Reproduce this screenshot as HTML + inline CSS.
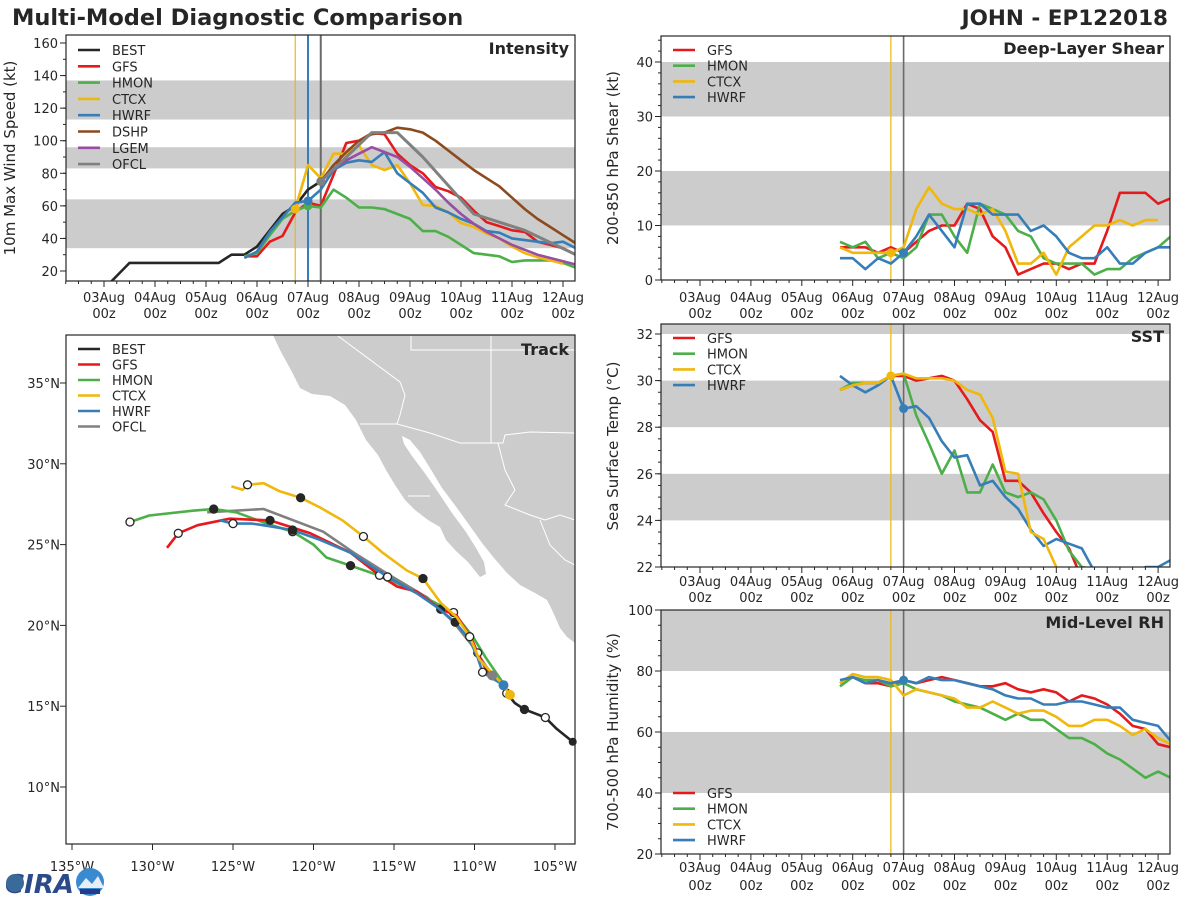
<!DOCTYPE html>
<html><head><meta charset="utf-8"><style>
html,body{margin:0;padding:0;background:#fff;}
svg text{font-family:"DejaVu Sans","Liberation Sans",sans-serif;}
</style></head><body>
<svg id="chart" xmlns="http://www.w3.org/2000/svg" width="1200" height="900" viewBox="0 0 1200 900">
<defs>
<clipPath id="cI"><rect x="66" y="35" width="509" height="246"/></clipPath>
<clipPath id="cS"><rect x="661" y="36" width="509" height="244"/></clipPath>
<clipPath id="cT"><rect x="661" y="324" width="509" height="243"/></clipPath>
<clipPath id="cR"><rect x="661" y="610" width="509" height="244"/></clipPath>
<clipPath id="cM"><rect x="66" y="335" width="509" height="509"/></clipPath>
</defs>
<text x="12" y="25" font-size="22.5" font-weight="bold" fill="#262626">Multi-Model Diagnostic Comparison</text>
<text x="1168" y="25" font-size="21.5" font-weight="bold" fill="#262626" text-anchor="end">JOHN - EP122018</text>
<g id="map" clip-path="url(#cM)">
<polygon fill="#cccccc" points="273,335 280,350 292,372 300,388 312,394 330,396 345,405 356,420 366,440 378,455 386,470 395,485 405,500 415,510 428,520 440,527 446,540 456,551 468,562 480,577 486,574 484,562 476,548 466,532 452,513 438,492 424,472 412,456 404,444 402,436 410,440 420,452 430,468 442,488 457,508 470,526 482,543 494,558 507,573 520,585 535,593 547,600 553,612 560,628 567,637 575,643 575,335"/>
<polyline fill="none" stroke="#fff" stroke-width="1" points="360,424 397,424 430,433 460,443 503,443 505,435 530,432 575,433"/>
<polyline fill="none" stroke="#fff" stroke-width="1" points="338,336 400,382 405,395 400,415 397,424"/>
<polyline fill="none" stroke="#fff" stroke-width="1" points="411,336 411,350 575,350"/>
<polyline fill="none" stroke="#fff" stroke-width="1" points="491,336 491,443"/>
<polyline fill="none" stroke="#fff" stroke-width="1" points="498,443 505,470 515,490 505,505 530,515 545,520 560,515 575,520"/>
<polyline fill="none" stroke="#fff" stroke-width="1" points="540,520 550,545 565,560 575,565"/>
<polyline fill="none" stroke="#fff" stroke-width="1" points="408,496 430,496"/>
</g>
<g id="plot"></g>
<g>
<text x="5" y="893" font-size="26" font-weight="bold" fill="#2a4a8a" font-style="italic">CIRA</text>
<circle cx="15" cy="883" r="9" fill="#3a6a9a"/>
<circle cx="90" cy="882" r="14" fill="#3a8ad0"/>
<path d="M78,888 L86,878 L92,884 L98,876 L104,888 Z" fill="#e8eef8"/>
<rect x="80" y="889" width="20" height="5" fill="#2a3a8a"/>
</g>
</svg>
<script>
// ---------- DATA ----------
const dayLabels = ["03Aug","04Aug","05Aug","06Aug","07Aug","08Aug","09Aug","10Aug","11Aug","12Aug"];
const intensityTicks = [20,40,60,80,100,120,140,160];
const shearTicks = [0,10,20,30,40];
const sstTicks = [22,24,26,28,30,32];
const rhTicks = [20,40,60,80,100];
const latTicks = [10,15,20,25,30,35];
const lonTicks = [-135,-130,-125,-120,-115,-110,-105];

const bestStart = 0;
const bestVmax = [9,17,25,25,25,25,25,25,25,25,30,30,35,45,55,60,70,75];
const gfsVmax = [29,29,38,41.5,56,62,60,79,98.6,100,104.7,104,92,85,80,71.6,69,65,57,50,47.6,45,44,38,36,34,30];
const hmonVmax = [29,31,42,52,57,60,59,70,65,59,59,58,55,52,44.5,44.5,41,36,31,30,29,25.5,26.5,26.5,26.5,25,22];
const ctcxVmax = [58,85,77,92,92,97,85,82,85,74,60.5,60,56,49.5,47,43,40,35,31,28.5,26.5,24.5];
const hwrfVmax = [28,32,44,53,62,63,70,82,86.5,88,87,93,80,74,68,59,56,52,49,44.5,43.5,40,39,38,37,38,34];
const dshpVmax = [75,85,93,100,104,105,108,107,105,100,94,88,82,77,72,65,58,52,47,42,37];
const lgemVmax = [75,83,88,92,96,93,90,84,77,70,62,55,49,44,40,36,33,30,28,26,24];
const ofclHours = [102,114,126,138,150,174,198,222];
const ofclVmax = [75,90,105,105,90,55,45,30];

const gfsShear = [6,6,6,5,6,5,7,9,10,10,14,13,8,6,1,2,3,3,2,3,3,9,16,16,16,14,15];
const hmonShear = [7,6,7,4,5,4,6,12,12,8,5,14,13,12,9,8,4,3,3,3,1,2,2,4,5,6,8];
const ctcxShear = [6,5,5,5,5,6,13,17,14,13,13,12,13,9,3,3,5,1,6,8,10,10,11,10,11,11];
const hwrfShear = [4,4,2,4,3,5,8,12,9,6,14,14,12,12,12,9,10,8,5,4,4,6,3,3,5,6,6];

const gfsSst = [29.6,29.8,29.9,29.9,30.2,30.2,30.0,30.1,30.2,30.0,29.2,28.3,27.8,25.7,25.7,25.2,24.3,23.5,22.8,21.5];
const hmonSst = [29.6,29.9,29.9,29.9,30.2,30.3,28.5,27.3,26.0,27.0,25.2,25.2,26.4,25.2,25.0,25.2,24.9,24.0,22.7,22.0,21.9,21.5];
const ctcxSst = [29.6,29.8,29.9,29.9,30.2,30.3,30.1,30.1,30.1,30.0,29.6,29.4,28.4,26.1,26.0,23.5,23.2,22.0,21.0];
const hwrfSst = [30.2,29.8,29.5,29.8,30.2,28.8,28.9,28.4,27.4,26.7,26.8,25.5,25.7,25.0,24.5,23.6,22.9,23.2,23.0,22.8,21.8,21.5,21.5,21.5,22.0,22.0,22.3];

const gfsRh = [76,78,76,76,75,77,76,77,78,77,76,75,75,76,74,73,74,73,70,72,71,69,66,62,61,56,55];
const hmonRh = [75,78,77,77,75,76,74,73,72,70,69,68,66,64,66,64,64,61,58,58,56,53,51,48,45,47,45];
const ctcxRh = [76,79,78,78,77,72,74,73,72,71,68,68,70,68,66,67,67,65,62,62,64,64,62,59,61,58,56];
const hwrfRh = [77,78,76,77,76,77,76,78,77,77,76,75,74,72,71,71,69,69,70,70,69,68,68,64,63,62,57];

const bestLon = [-103.9,-104.9,-105.6,-106.1,-106.9,-107.5,-108.0,-108.3];
const bestLat = [12.8,13.6,14.3,14.5,14.8,15.2,15.8,16.4];
const gfsLon = [-108.3,-109.2,-109.8,-110.2,-111.1,-112.1,-113.6,-114.8,-115.9,-117.7,-120.2,-122.7,-125.2,-127.2,-128.4,-129.1];
const gfsLat = [16.4,17.1,18.3,19.2,20.6,21.0,22.1,22.4,23.1,24.5,25.7,26.5,26.6,26.2,25.7,24.8];
const hmonLon = [-108.2,-109.3,-110.1,-111.3,-113.4,-115.4,-117.7,-119.2,-120.0,-121.3,-122.9,-124.8,-126.2,-127.5,-130.2,-131.4];
const hmonLat = [16.4,18.0,19.3,20.8,21.9,22.9,23.7,24.2,25.0,25.8,26.3,27.0,27.2,27.1,26.8,26.4];
const ctcxLon = [-107.8,-108.3,-109.7,-110.3,-111.1,-112.1,-113.2,-114.2,-115.7,-116.9,-118.2,-119.6,-120.8,-122.1,-123.1,-124.1,-124.4,-125.1];
const ctcxLat = [15.7,16.4,17.9,19.3,20.5,21.4,22.9,23.4,24.5,25.5,26.5,27.3,27.9,28.3,28.8,28.7,28.4,28.6];
const hwrfLon = [-108.2,-109.5,-109.8,-110.3,-111.2,-112.3,-113.6,-115.4,-117.7,-119.6,-121.3,-122.5,-123.8,-125.0,-125.8];
const hwrfLat = [16.3,17.1,18.0,19.1,20.2,21.1,22.0,23.0,24.5,25.3,25.9,26.1,26.3,26.3,26.5];
const ofclLon = [-108.9,-110.1,-111.3,-112.9,-115.1,-117.5,-119.4,-123.1,-126.6];
const ofclLat = [16.9,18.7,20.2,21.7,23.0,24.5,25.8,27.2,27.0];

// ---------- HELPERS ----------
const NS = "http://www.w3.org/2000/svg";
const root = document.getElementById('plot');
function mk(tag, attrs, parent){ const e=document.createElementNS(NS,tag); for(const k in attrs) e.setAttribute(k,attrs[k]); (parent||root).appendChild(e); return e; }
const C = {BEST:"#262626",GFS:"#e41a1c",HMON:"#4daf4a",CTCX:"#f0b70c",HWRF:"#377eb8",DSHP:"#8c4a1e",LGEM:"#984ea3",OFCL:"#808080"};

const xL = h => 104 + h/24*51;
const xR = h => 700 + h/24*50.9;
const yI = v => 271 - (v-20)*1.6286;
const yS = v => 280 - v*5.45;
const yT = v => 567 - (v-22)*23.3;
const yH = v => 854 - (v-20)*3.05;
const mx = lon => 72 + (lon+135)*16.1;
const my = lat => 787 - (lat-10)*16.16;

function band(x0,w,y0,y1,name){ const r=mk('rect',{x:x0,y:Math.min(y0,y1),width:w,height:Math.abs(y1-y0),fill:'#cccccc'});   }
function series(xs, ys, color, clip, name, w){
  const p = mk('polyline',{points:xs.map((x,i)=>x.toFixed(1)+','+ys[i].toFixed(1)).join(' '),fill:'none',stroke:color,'stroke-width':w||2.6,'stroke-linejoin':'round','clip-path':'url(#'+clip+')'});
  
  
}
function ts(start, vals, xf, yf, color, clip, name){
  const hours = vals.map((v,i)=>start+i*6);
  series(hours.map(xf), vals.map(yf), color, clip, name);
}
function dot(x,y,color,name,r){ const c=mk('circle',{cx:x,cy:y,r:r||4.5,fill:color});   }
function vline(x,y0,y1,color,name,w){ const l=mk('line',{x1:x,x2:x,y1:y0,y2:y1,stroke:color,'stroke-width':w||1.2});   }
function text(x,y,s,opts,name){ const t=mk('text',Object.assign({x:x,y:y,'font-size':13,fill:'#262626'},opts||{})); t.textContent=s;   return t; }
function frame(x,y,w,h,name){ const r=mk('rect',{x:x,y:y,width:w,height:h,fill:'none',stroke:'#262626','stroke-width':1.2});   }
function xaxis(xf, x0, x1, yb, ly1, ly2, prefix){
  for(let h=-36; h<=240; h+=6){ const x=xf(h); if(x<x0-0.5||x>x1+0.5) continue; const maj = h%24===0; mk('line',{x1:x,x2:x,y1:yb,y2:yb+(maj?6:3),stroke:'#262626','stroke-width':1}); }
  dayLabels.forEach((d,i)=>{ const x=xf(i*24);
    text(x,ly1,d,{'text-anchor':'middle'},prefix+'-x-label-'+d);
    text(x,ly2,'00z',{'text-anchor':'middle'},prefix+'-x-label-'+d+'-00z'); });
}
function yaxis(ticks, yf, xleft, prefix, minorStep, lo, hi){
  if(minorStep){ for(let v=lo; v<=hi+1e-6; v+=minorStep){ const y=yf(v); mk('line',{x1:xleft-3,x2:xleft,y1:y,y2:y,stroke:'#262626','stroke-width':1}); } }
  ticks.forEach(v=>{ const y=yf(v); mk('line',{x1:xleft-6,x2:xleft,y1:y,y2:y,stroke:'#262626','stroke-width':1});
    text(xleft-8,y+5,String(v),{'text-anchor':'end'},prefix+'-y-label-'+v); });
}
function ytitle(x,yc,s,name){ text(x,yc,s,{'text-anchor':'middle','font-size':15,transform:'rotate(-90 '+x+' '+yc+')'},name); }
function legend(x,y0,dy,names,prefix){
  names.forEach((n,i)=>{ const y=y0+i*dy; const l=mk('line',{x1:x,x2:x+22,y1:y,y2:y,stroke:C[n],'stroke-width':2.6});
     
    text(x+34,y+5,n,{},prefix+'-legend-'+n.toLowerCase()); });
}

// ---------- INTENSITY ----------
band(66,509,yI(34),yI(64),'intensity-band-ts');
band(66,509,yI(83),yI(96),'intensity-band-cat2');
band(66,509,yI(113),yI(137),'intensity-band-cat4');
vline(xL(90),35,281,C.CTCX,'intensity-init-line-ctcx',1.2);
vline(xL(96),35,281,C.HWRF,'intensity-init-line-hwrf',2);
vline(xL(102),35,281,'#6a6a6a','intensity-init-line-ofcl',2);
ts(bestStart,bestVmax,xL,yI,C.BEST,'cI','intensity-best');
ts(66,gfsVmax,xL,yI,C.GFS,'cI','intensity-gfs');
ts(66,hmonVmax,xL,yI,C.HMON,'cI','intensity-hmon');
ts(90,ctcxVmax,xL,yI,C.CTCX,'cI','intensity-ctcx');
ts(66,hwrfVmax,xL,yI,C.HWRF,'cI','intensity-hwrf');
ts(102,dshpVmax,xL,yI,C.DSHP,'cI','intensity-dshp');
ts(102,lgemVmax,xL,yI,C.LGEM,'cI','intensity-lgem');
series(ofclHours.map(xL),ofclVmax.map(yI),C.OFCL,'cI','intensity-ofcl',3);
dot(xL(90),yI(ctcxVmax[0]),C.CTCX,'intensity-dot-ctcx');
dot(xL(96),yI(hmonVmax[5]),C.HMON,'intensity-dot-hmon');
dot(xL(96),yI(hwrfVmax[5]),C.HWRF,'intensity-dot-hwrf');
dot(xL(102),yI(ofclVmax[0]),C.OFCL,'intensity-dot-ofcl');
frame(66,35,509,246,'intensity-frame');
yaxis(intensityTicks,yI,66,'intensity',10,20,160);
xaxis(xL,66,575,281,302,318,'intensity');
ytitle(15,158,'10m Max Wind Speed (kt)','intensity-y-title');
text(569,54,'Intensity',{'text-anchor':'end','font-size':16,'font-weight':'bold'},'intensity-panel-title');
legend(78,50,16.3,['BEST','GFS','HMON','CTCX','HWRF','DSHP','LGEM','OFCL'],'intensity');

// ---------- SHEAR ----------
band(661,509,yS(10),yS(20),'shear-band-10-20');
band(661,509,yS(30),yS(40),'shear-band-30-40');
vline(xR(90),36,280,C.CTCX,'shear-init-line-ctcx',1.2);
vline(xR(96),36,280,'#6a6a6a','shear-init-line-ofcl',1.6);
ts(66,gfsShear,xR,yS,C.GFS,'cS','shear-gfs');
ts(66,hmonShear,xR,yS,C.HMON,'cS','shear-hmon');
ts(66,ctcxShear,xR,yS,C.CTCX,'cS','shear-ctcx');
ts(66,hwrfShear,xR,yS,C.HWRF,'cS','shear-hwrf');
dot(xR(90),yS(ctcxShear[4]),C.CTCX,'shear-dot-ctcx');
dot(xR(96),yS(hwrfShear[5]),C.HWRF,'shear-dot-hwrf');
frame(661,36,509,244,'shear-frame');
yaxis(shearTicks,yS,661,'shear',2,0,44);
xaxis(xR,661,1170,280,302,318,'shear');
ytitle(618,158,'200-850 hPa Shear (kt)','shear-y-title');
text(1164,54,'Deep-Layer Shear',{'text-anchor':'end','font-size':16,'font-weight':'bold'},'shear-panel-title');
legend(673,50,15.7,['GFS','HMON','CTCX','HWRF'],'shear');

// ---------- SST ----------
band(661,509,324,yT(32),'sst-band-32');
band(661,509,yT(28),yT(30),'sst-band-28-30');
band(661,509,yT(24),yT(26),'sst-band-24-26');
vline(xR(90),324,567,C.CTCX,'sst-init-line-ctcx',1.2);
vline(xR(96),324,567,'#6a6a6a','sst-init-line-ofcl',1.6);
ts(66,gfsSst,xR,yT,C.GFS,'cT','sst-gfs');
ts(66,hmonSst,xR,yT,C.HMON,'cT','sst-hmon');
ts(66,hwrfSst,xR,yT,C.HWRF,'cT','sst-hwrf');
ts(66,ctcxSst,xR,yT,C.CTCX,'cT','sst-ctcx');
dot(xR(90),yT(ctcxSst[4]),C.CTCX,'sst-dot-ctcx');
dot(xR(96),yT(hwrfSst[5]),C.HWRF,'sst-dot-hwrf');
frame(661,324,509,243,'sst-frame');
yaxis(sstTicks,yT,661,'sst',0.5,22,32);
xaxis(xR,661,1170,567,586,602,'sst');
ytitle(618,446,'Sea Surface Temp (°C)','sst-y-title');
text(1164,342,'SST',{'text-anchor':'end','font-size':16,'font-weight':'bold'},'sst-panel-title');
legend(673,338,15.7,['GFS','HMON','CTCX','HWRF'],'sst');

// ---------- RH ----------
band(661,509,yH(40),yH(60),'rh-band-40-60');
band(661,509,yH(80),yH(100),'rh-band-80-100');
vline(xR(90),610,854,C.CTCX,'rh-init-line-ctcx',1.2);
vline(xR(96),610,854,'#6a6a6a','rh-init-line-ofcl',1.6);
ts(66,gfsRh,xR,yH,C.GFS,'cR','rh-gfs');
ts(66,hmonRh,xR,yH,C.HMON,'cR','rh-hmon');
ts(66,ctcxRh,xR,yH,C.CTCX,'cR','rh-ctcx');
ts(66,hwrfRh,xR,yH,C.HWRF,'cR','rh-hwrf');
dot(xR(96),yH(hwrfRh[5]),C.HWRF,'rh-dot-hwrf');
frame(661,610,509,244,'rh-frame');
yaxis(rhTicks,yH,661,'rh',5,20,100);
xaxis(xR,661,1170,854,872,890,'rh');
ytitle(618,732,'700-500 hPa Humidity (%)','rh-y-title');
text(1164,628,'Mid-Level RH',{'text-anchor':'end','font-size':16,'font-weight':'bold'},'rh-panel-title');
legend(673,793,15.7,['GFS','HMON','CTCX','HWRF'],'rh');

// ---------- TRACK ----------
function track(lons,lats,color,name,step,offset){
  series(lons.map(mx),lats.map(my),color,'cM','track-'+name,2.6);
  lons.forEach((lo,i)=>{ if(i===0 || (i+offset)%step!==0) return;
    const filled = Math.floor((i+offset)/step)%2===0;
    const c=mk('circle',{cx:mx(lo),cy:my(lats[i]),r:4,fill:filled?'#262626':'#fff',stroke:'#262626','stroke-width':1.3,'clip-path':'url(#cM)'});
    
     });
}
track(bestLon,bestLat,C.BEST,'best',2,0);
track(ofclLon,ofclLat,C.OFCL,'ofcl',9,0);
track(hmonLon,hmonLat,C.HMON,'hmon',3,0);
track(gfsLon,gfsLat,C.GFS,'gfs',3,1);
track(hwrfLon,hwrfLat,C.HWRF,'hwrf',3,2);
track(ctcxLon,ctcxLat,C.CTCX,'ctcx',3,0);
dot(mx(bestLon[0]),my(bestLat[0]),'#262626','track-best-start',4);
dot(mx(ctcxLon[0]),my(ctcxLat[0]),C.CTCX,'track-ctcx-start',5);
dot(mx(hwrfLon[0]),my(hwrfLat[0]),C.HWRF,'track-hwrf-start',5);
dot(mx(ofclLon[0]),my(ofclLat[0]),C.OFCL,'track-ofcl-start',5);
frame(66,335,509,509,'track-frame');
latTicks.forEach(v=>{ const y=my(v); mk('line',{x1:60,x2:66,y1:y,y2:y,stroke:'#262626','stroke-width':1}); text(60,y+5,v+'°N',{'text-anchor':'end'},'track-lat-label-'+v); });
lonTicks.forEach(v=>{ const x=mx(v); mk('line',{x1:x,x2:x,y1:844,y2:850,stroke:'#262626','stroke-width':1}); text(x,871,(-v)+'°W',{'text-anchor':'middle'},'track-lon-label-'+(-v)); });
text(569,355,'Track',{'text-anchor':'end','font-size':16,'font-weight':'bold'},'track-panel-title');
legend(78,349,15.5,['BEST','GFS','HMON','CTCX','HWRF','OFCL'],'track');
</script>
</body></html>
